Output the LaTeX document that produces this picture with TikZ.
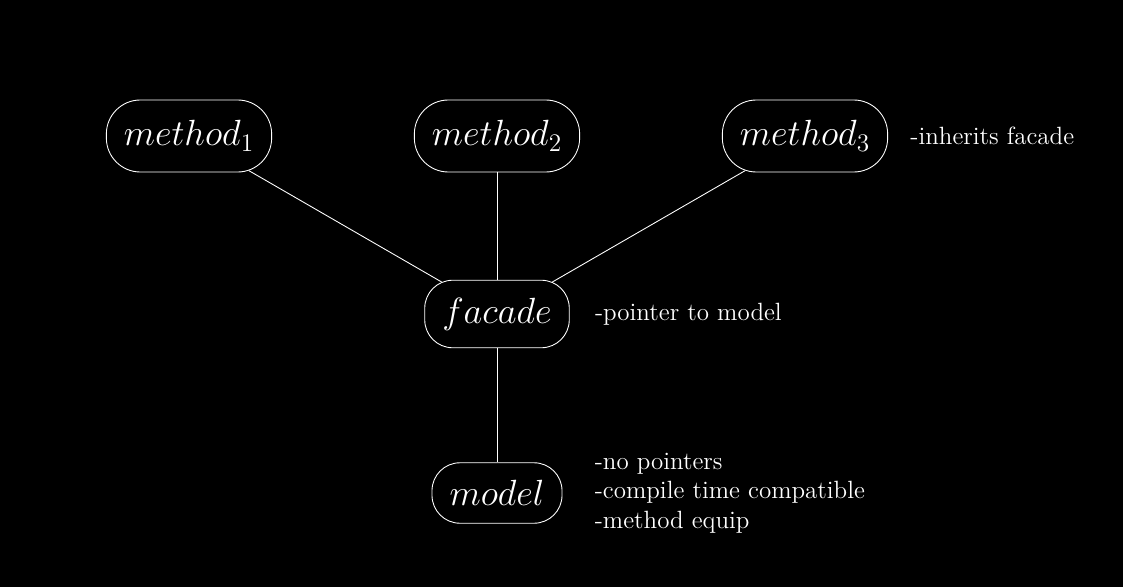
\documentclass[tikz,border=0pt]{standalone}
\usepackage{tikz}
\usetikzlibrary{positioning}

\begin{document}
\begin{tikzpicture}[
  node distance=0.5cm and 0.5cm,
  blob/.style={draw=white, rectangle, rounded corners=0.56cm, line width=0.5pt, text=white, font=\huge, inner xsep=10pt, inner ysep=10pt},
  methodblob/.style={blob, rounded corners=0.68cm, minimum height=1.44cm},
  note/.style={text=white, inner sep=0pt, align=left, font=\fontsize{14.2}{16.8}\selectfont},
  link/.style={draw=white, line width=0.5pt},
  slant/.style={link, shorten <=-2pt, shorten >=-2.6pt}
]
\fill[black] (0,0) rectangle (22.46,11.74);
\useasboundingbox (0,0) rectangle (22.46,11.74);

% top row
\node[methodblob] (m1) at (3.78,9.02) {$method_1$};
\node[methodblob] (m2) at (9.94,9.02) {$method_2$};
\node[methodblob] (m3) at (16.10,9.02) {$method_3$};
% middle and bottom
\node[blob] (facade) at (9.94,5.46) {$facade$};
\node[blob] (model) at (9.94,1.88) {$model$};

\node[note, right=0.44cm of m3] (n3) {-inherits facade};
\node[note, right=0.5cm of facade] (nf) {-pointer to model};
\node[note, right=0.64cm of model] (nm) {-no pointers\\-compile time compatible\\-method equip};

\draw[slant] (m1) -- (facade);
\draw[link] (m2) -- (facade);
\draw[slant] (m3) -- (facade);
\draw[link] (facade) -- (model);
\end{tikzpicture}
\end{document}
